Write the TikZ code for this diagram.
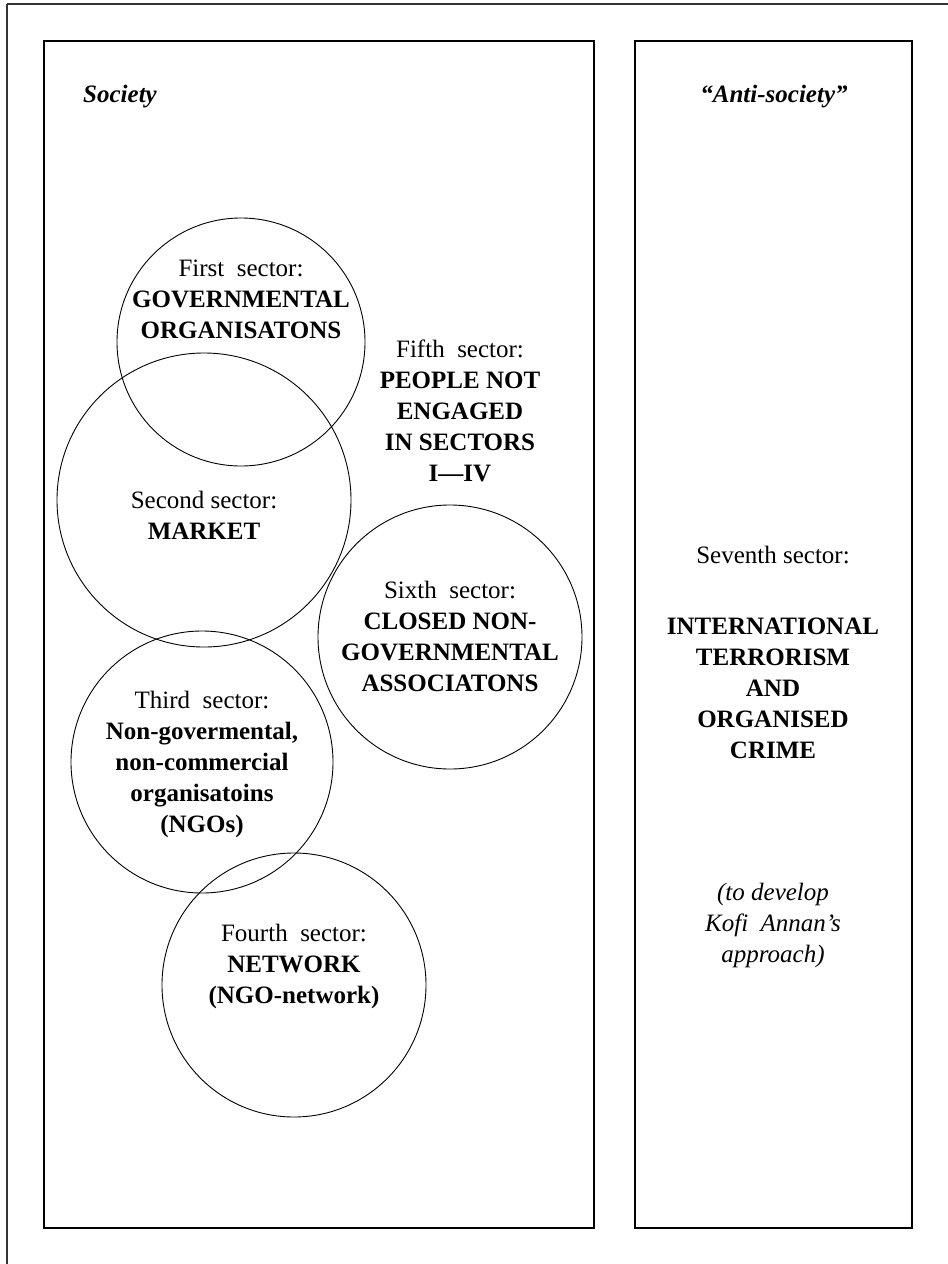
\documentclass[tikz,border=0pt]{standalone}
\usepackage{fontspec}
\setmainfont{Liberation Serif}
% a slightly wider word space, as used in the sector captions
\newcommand{\wsp}{\hspace{0.5em}}
\begin{document}
\begin{tikzpicture}[x=1pt,y=-1pt,
  frame/.style={draw, line width=1.2pt, black!80},
  panel/.style={draw, line width=1.2pt},
  sector/.style={circle, draw, line width=0.9pt, minimum size=#1, inner sep=0pt},
  txt/.style={align=center, font=\fontsize{25}{31}\selectfont, inner sep=0pt},
  heading/.style={font=\fontsize{25}{31}\selectfont\bfseries\itshape, inner sep=0pt},
  note/.style={align=center, font=\fontsize{25}{31}\selectfont\itshape, inner sep=0pt}]

\useasboundingbox (0,0) rectangle (948,1264);

% outer frame (top and left edges)
\draw[frame] (7,4) -- (948,4);
\draw[frame] (7,4) -- (7,1264);

% the two panels
\draw[panel] (44,41) rectangle (594,1228);
\draw[panel] (635,41) rectangle (912,1228);

\node[heading] (soc) at (120,97) {Society};
\node[heading] (anti) at (774,97) {“Anti-society”};

% sector circles
\node[sector=248pt] (c1) at (241,342) {};
\node[sector=294pt] (c2) at (204,500) {};
\node[sector=262pt] (c3) at (202,762) {};
\node[sector=264pt] (c4) at (294,985) {};
\node[sector=264pt] (c6) at (450,637) {};

% sector labels
\node[txt] (t1) at (241,299) {First\wsp{}sector:\\\textbf{GOVERNMENTAL}\\\textbf{ORGANISATONS}};
\node[txt] (t2) at (204,515) {Second sector:\\\textbf{MARKET}};
\node[txt] (t3) at (202,764) {Third\wsp{}sector:\\\textbf{Non-govermental,}\\\textbf{non-commercial}\\\textbf{organisatoins}\\\textbf{(NGOs)}};
\node[txt] (t4) at (294,966) {Fourth\wsp{}sector:\\\textbf{NETWORK}\\\textbf{(NGO-network)}};
\node[txt] (t5) at (460,411) {Fifth\wsp{}sector:\\\textbf{PEOPLE NOT}\\\textbf{ENGAGED}\\\textbf{IN SECTORS}\\\textbf{I---IV}};
\node[txt] (t6) at (450,636) {Sixth\wsp{}sector:\\\textbf{CLOSED NON-}\\\textbf{GOVERNMENTAL}\\\textbf{ASSOCIATONS}};

% seventh sector
\node[txt] (t7) at (773,555) {Seventh sector:};
\node[txt] (t7b) at (773,688) {\textbf{INTERNATIONAL}\\\textbf{TERRORISM}\\\textbf{AND}\\\textbf{ORGANISED}\\\textbf{CRIME}};
\node[note] (t8) at (773,925) {(to develop\\Kofi\wsp{}Annan’s\\approach)};
\end{tikzpicture}
\end{document}
